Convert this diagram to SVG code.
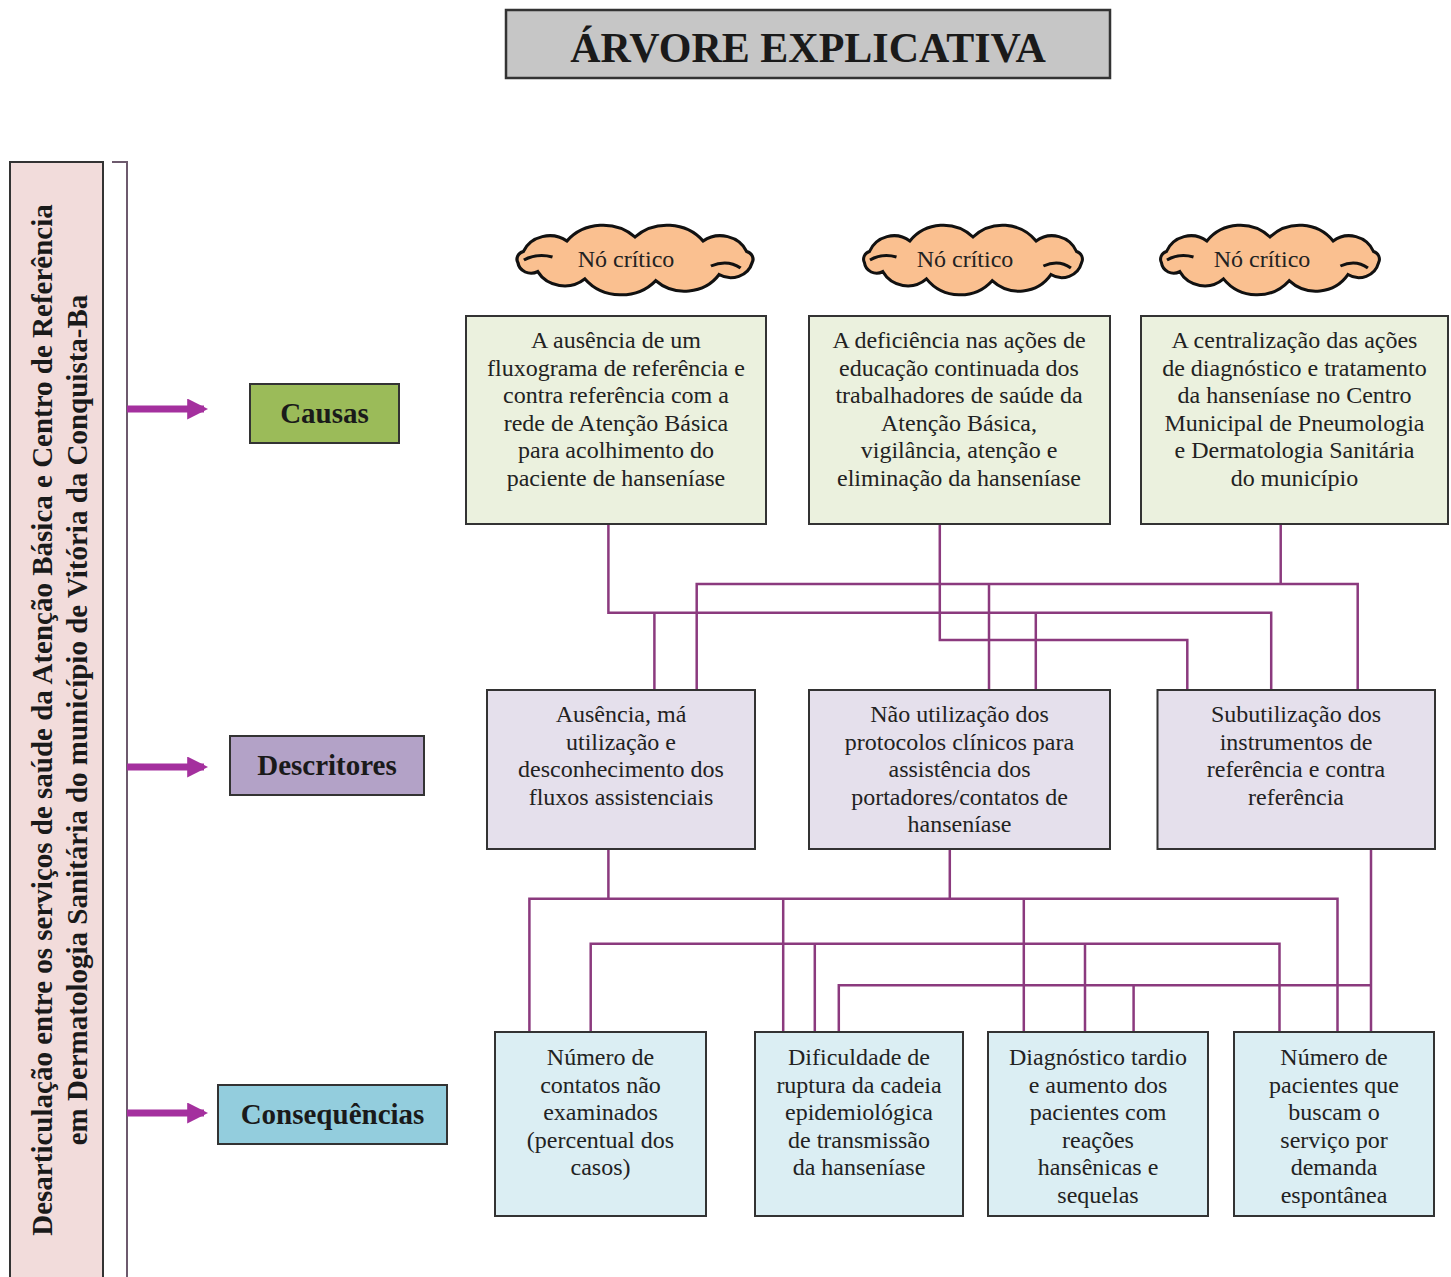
<svg xmlns="http://www.w3.org/2000/svg" xmlns:xlink="http://www.w3.org/1999/xlink" width="1451" height="1277" viewBox="0 0 1451 1277">
<style>
.t{font-family:"Liberation Serif","Times New Roman",serif;font-size:24px;fill:#222;text-anchor:middle}
.b{font-family:"Liberation Serif","Times New Roman",serif;font-weight:bold;fill:#1a1a1a;text-anchor:middle}
.box{stroke:#333;stroke-width:2}
.cause{fill:#ebf1de}
.desc{fill:#e5e0ec}
.cons{fill:#dbeef3}
.con{fill:none;stroke:#8b3a7e;stroke-width:2.5}
.arr{fill:none;stroke:#a4309e;stroke-width:7}
.cloud{fill:#fac090;stroke:#111;stroke-width:3}
.curl{fill:none;stroke:#111;stroke-width:3}
</style>
<defs>
<path id="cloudshape" d="M -106.4 3.8 A 8 8 0 0 1 -101.5 -7.5 A 26 26 0 0 1 -61.9 -18 A 42 42 0 0 1 0 -22 A 42 42 0 0 1 61.9 -18 A 26 26 0 0 1 101.5 -7.5 A 8 8 0 0 1 106.4 3.8 A 20 20 0 0 1 76.4 15.6 A 38 38 0 0 1 18.8 21.7 A 42 42 0 0 1 -45.6 19.9 A 28 28 0 0 1 -88.5 12.6 A 12 12 0 0 1 -106.4 3.8 Z"/>
<path id="curls" d="M -101 1 q 12 -7 26 -3 M 96 9 q -12 -9 -27 -2"/>
<marker id="ah" viewBox="0 0 10 10" refX="8" refY="5" markerWidth="3" markerHeight="3" orient="auto" markerUnits="strokeWidth">
<path d="M0 0 L10 5 L0 10 Z" fill="#a4309e"/>
</marker>
</defs>
<rect width="1451" height="1277" fill="#fff"/>

<g id="title">
<rect x="506" y="10" width="604" height="68" fill="#c6c6c6" stroke="#333" stroke-width="2.5"/>
<text class="b" x="808" y="62" font-size="42">ÁRVORE EXPLICATIVA</text>
</g>

<g id="problem">
<rect x="10" y="162" width="93" height="1125" fill="#f2dcdb" stroke="#333" stroke-width="2"/>
<g transform="translate(0,720) rotate(-90)">
<text class="b" x="0" y="52" font-size="29">Desarticulação entre os serviços de saúde da Atenção Básica e Centro de Referência</text>
<text class="b" x="0" y="87" font-size="29">em Dermatologia Sanitária do município de Vitória da Conquista-Ba</text>
</g>
</g>

<g id="bracket">
<path d="M112 162 H127 V1280" fill="none" stroke="#6d5a6d" stroke-width="2"/>
</g>

<g id="arrows">
<line class="arr" x1="127" y1="409" x2="204" y2="409" marker-end="url(#ah)"/>
<line class="arr" x1="127" y1="767" x2="204" y2="767" marker-end="url(#ah)"/>
<line class="arr" x1="127" y1="1113" x2="204" y2="1113" marker-end="url(#ah)"/>
</g>

<g id="label-causas">
<rect class="box" x="250" y="384" width="149" height="59" fill="#9bbb59"/>
<text class="b" x="324.5" y="423" font-size="29">Causas</text>
</g>
<g id="label-descritores">
<rect class="box" x="230" y="736" width="194" height="59" fill="#b3a2c7"/>
<text class="b" x="327" y="775" font-size="29">Descritores</text>
</g>
<g id="label-consequencias">
<rect class="box" x="218" y="1085" width="229" height="59" fill="#93cddd"/>
<text class="b" x="332.5" y="1124" font-size="29">Consequências</text>
</g>

<g id="connectors">
<path class="con" d="M608.4 524 V612.7 H1271.2 V690"/>
<path class="con" d="M654.4 612.7 V690 M1035.8 612.7 V690"/>
<path class="con" d="M939.8 524 V640 H1187.3 V690"/>
<path class="con" d="M1280.7 524 V584 M696.7 690 V584 H1357.7 V690 M989 584 V690"/>
<path class="con" d="M608.4 849 V898.7 M949.8 849 V898.7"/>
<path class="con" d="M529.4 1032 V898.7 H1337.5 V1032 M783.2 898.7 V1032 M1023.8 898.7 V1032"/>
<path class="con" d="M590.7 1032 V943.7 H1279.5 V1032 M814.8 943.7 V1032 M1085 943.7 V1032"/>
<path class="con" d="M1371 849 V1032 M838.8 1032 V985.3 H1371 M1133.6 985.3 V1032"/>
</g>

<g id="cloud1">
<g transform="translate(635,259) scale(1.1,1)">
<use xlink:href="#cloudshape" class="cloud"/>
<use xlink:href="#curls" class="curl"/>
</g>
<text class="t" x="626" y="267" font-size="23">Nó crítico</text>
</g>
<g id="cloud2">
<g transform="translate(973,259) scale(1.02,1)">
<use xlink:href="#cloudshape" class="cloud"/>
<use xlink:href="#curls" class="curl"/>
</g>
<text class="t" x="965" y="267" font-size="23">Nó crítico</text>
</g>
<g id="cloud3">
<g transform="translate(1270,259) scale(1.02,1)">
<use xlink:href="#cloudshape" class="cloud"/>
<use xlink:href="#curls" class="curl"/>
</g>
<text class="t" x="1262" y="267" font-size="23">Nó crítico</text>
</g>

<g id="cause1">
<rect class="box cause" x="466" y="316" width="300" height="208"/>
<text class="t" x="616" y="348">A ausência de um<tspan x="616" dy="27.5">fluxograma de referência e</tspan><tspan x="616" dy="27.5">contra referência com a</tspan><tspan x="616" dy="27.5">rede de Atenção Básica</tspan><tspan x="616" dy="27.5">para acolhimento do</tspan><tspan x="616" dy="27.5">paciente de hanseníase</tspan></text>
</g>
<g id="cause2">
<rect class="box cause" x="809" y="316" width="301" height="208"/>
<text class="t" x="959" y="348">A deficiência nas ações de<tspan x="959" dy="27.5">educação continuada dos</tspan><tspan x="959" dy="27.5">trabalhadores de saúde da</tspan><tspan x="959" dy="27.5">Atenção Básica,</tspan><tspan x="959" dy="27.5">vigilância, atenção e</tspan><tspan x="959" dy="27.5">eliminação da hanseníase</tspan></text>
</g>
<g id="cause3">
<rect class="box cause" x="1141" y="316" width="307" height="208"/>
<text class="t" x="1294.5" y="348">A centralização das ações<tspan x="1294.5" dy="27.5">de diagnóstico e tratamento</tspan><tspan x="1294.5" dy="27.5">da hanseníase no Centro</tspan><tspan x="1294.5" dy="27.5">Municipal de Pneumologia</tspan><tspan x="1294.5" dy="27.5">e Dermatologia Sanitária</tspan><tspan x="1294.5" dy="27.5">do município</tspan></text>
</g>

<g id="desc1">
<rect class="box desc" x="487" y="690" width="268" height="159"/>
<text class="t" x="621" y="722">Ausência, má<tspan x="621" dy="27.5">utilização e</tspan><tspan x="621" dy="27.5">desconhecimento dos</tspan><tspan x="621" dy="27.5">fluxos assistenciais</tspan></text>
</g>
<g id="desc2">
<rect class="box desc" x="809" y="690" width="301" height="159"/>
<text class="t" x="959.5" y="722">Não utilização dos<tspan x="959.5" dy="27.5">protocolos clínicos para</tspan><tspan x="959.5" dy="27.5">assistência dos</tspan><tspan x="959.5" dy="27.5">portadores/contatos de</tspan><tspan x="959.5" dy="27.5">hanseníase</tspan></text>
</g>
<g id="desc3">
<rect class="box desc" x="1157.5" y="690" width="277.5" height="159"/>
<text class="t" x="1296" y="722">Subutilização dos<tspan x="1296" dy="27.5">instrumentos de</tspan><tspan x="1296" dy="27.5">referência e contra</tspan><tspan x="1296" dy="27.5">referência</tspan></text>
</g>

<g id="cons1">
<rect class="box cons" x="495" y="1032" width="211" height="184"/>
<text class="t" x="600.5" y="1065">Número de<tspan x="600.5" dy="27.5">contatos não</tspan><tspan x="600.5" dy="27.5">examinados</tspan><tspan x="600.5" dy="27.5">(percentual dos</tspan><tspan x="600.5" dy="27.5">casos)</tspan></text>
</g>
<g id="cons2">
<rect class="box cons" x="755" y="1032" width="208" height="184"/>
<text class="t" x="859" y="1065">Dificuldade de<tspan x="859" dy="27.5">ruptura da cadeia</tspan><tspan x="859" dy="27.5">epidemiológica</tspan><tspan x="859" dy="27.5">de transmissão</tspan><tspan x="859" dy="27.5">da hanseníase</tspan></text>
</g>
<g id="cons3">
<rect class="box cons" x="988" y="1032" width="220" height="184"/>
<text class="t" x="1098" y="1065">Diagnóstico tardio<tspan x="1098" dy="27.5">e aumento dos</tspan><tspan x="1098" dy="27.5">pacientes com</tspan><tspan x="1098" dy="27.5">reações</tspan><tspan x="1098" dy="27.5">hansênicas e</tspan><tspan x="1098" dy="27.5">sequelas</tspan></text>
</g>
<g id="cons4">
<rect class="box cons" x="1234" y="1032" width="200" height="184"/>
<text class="t" x="1334" y="1065">Número de<tspan x="1334" dy="27.5">pacientes que</tspan><tspan x="1334" dy="27.5">buscam o</tspan><tspan x="1334" dy="27.5">serviço por</tspan><tspan x="1334" dy="27.5">demanda</tspan><tspan x="1334" dy="27.5">espontânea</tspan></text>
</g>
</svg>
